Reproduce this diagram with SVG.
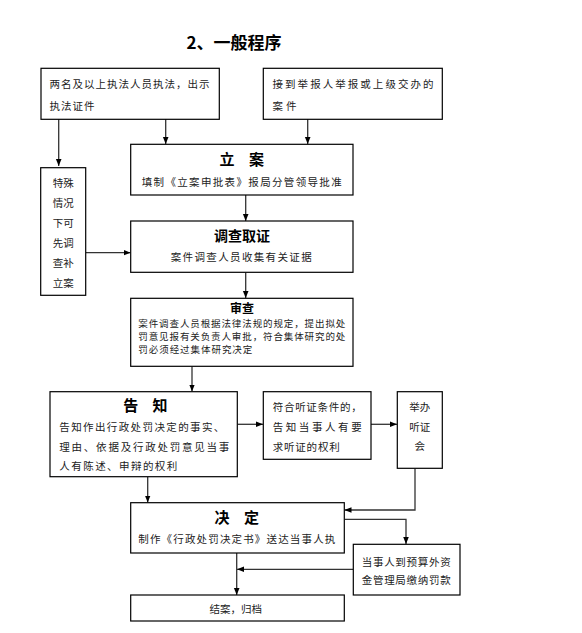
<svg xmlns="http://www.w3.org/2000/svg" width="582" height="633" viewBox="0 0 582 633">
<style>
.box{fill:#fff;stroke:#000;stroke-width:1.2}
.t{font-family:"Noto Sans CJK SC","Noto Sans",sans-serif;font-size:10.5px;fill:#222}
.s{font-size:9.5px}
.h{font-family:"Noto Sans CJK SC","Noto Sans",sans-serif;font-weight:bold;fill:#000;text-anchor:middle;white-space:pre}
.w{letter-spacing:2.5px}
.c{fill:none;stroke:#333;stroke-width:1.3;marker-end:url(#ah)}
</style>
<defs>
<marker id="ah" viewBox="0 0 10 10" refX="10" refY="5" markerWidth="7" markerHeight="7" orient="auto" markerUnits="userSpaceOnUse"><path d="M0,1 L10,5 L0,9 z" fill="#000"/></marker>
</defs>
<rect width="582" height="633" fill="#fff"/>
<text class="h" x="234" y="49" font-size="17">2、一般程序</text>

<g id="connectors">
<path class="c" d="M165.7,119 V144"/>
<path class="c" d="M307.7,119 V144"/>
<path class="c" d="M58.7,119 V166"/>
<path class="c" d="M86,252.7 H130.5"/>
<path class="c" d="M245.7,195 V221"/>
<path class="c" d="M245.7,272.5 V298"/>
<path class="c" d="M192,366.5 V391.5"/>
<path class="c" d="M237.5,424.3 H263"/>
<path class="c" d="M371,424.3 H397"/>
<path class="c" d="M415,468.5 V510 H344.5"/>
<path class="c" d="M147.7,477 V502.5"/>
<path class="c" d="M344.5,519.3 H406 V544"/>
<path class="c" d="M353,569.3 H237"/>
<path class="c" d="M236.7,553 V595"/>
</g>

<g id="nodeA">
<rect class="box" x="41" y="68.3" width="178.3" height="51"/>
<text class="t" x="49.5" y="88" textLength="160" lengthAdjust="spacing">两名及以上执法人员执法，出示</text>
<text class="t" x="49.5" y="110" textLength="45" lengthAdjust="spacing">执法证件</text>
</g>

<g id="nodeB">
<rect class="box" x="263.3" y="68.3" width="179" height="51"/>
<text class="t" x="272.5" y="88" textLength="161" lengthAdjust="spacing">接到举报人举报或上级交办的</text>
<text class="t" x="272.5" y="110" textLength="24" lengthAdjust="spacing">案件</text>
</g>

<g id="lian">
<rect class="box" x="130.7" y="144.3" width="222.3" height="50.7"/>
<text class="h w" x="243" y="165" font-size="15" xml:space="preserve">立  案</text>
<text class="t" x="141.7" y="185.5" textLength="200" lengthAdjust="spacing">填制《立案申批表》报局分管领导批准</text>
</g>

<g id="teshu">
<rect class="box" x="40.7" y="167.7" width="45" height="127.6"/>
<text class="t" x="63.2" y="187" text-anchor="middle">特殊</text>
<text class="t" x="63.2" y="207" text-anchor="middle">情况</text>
<text class="t" x="63.2" y="226.5" text-anchor="middle">下可</text>
<text class="t" x="63.2" y="246.5" text-anchor="middle">先调</text>
<text class="t" x="63.2" y="267" text-anchor="middle">查补</text>
<text class="t" x="63.2" y="287" text-anchor="middle">立案</text>
</g>

<g id="diaocha">
<rect class="box" x="130.7" y="221" width="222.3" height="51.3"/>
<text class="h" x="242" y="241" font-size="14">调查取证</text>
<text class="t" x="170.7" y="260.5" textLength="141" lengthAdjust="spacing">案件调查人员收集有关证据</text>
</g>

<g id="shencha">
<rect class="box" x="130.7" y="298.3" width="222.3" height="68"/>
<text class="h" x="242" y="312.5" font-size="12">审查</text>
<text class="t s" x="138.3" y="326.5" textLength="207" lengthAdjust="spacing">案件调查人员根据法律法规的规定，提出拟处</text>
<text class="t s" x="138.3" y="339.5" textLength="207" lengthAdjust="spacing">罚意见报有关负责人审批，符合集体研究的处</text>
<text class="t s" x="138.3" y="352.5" textLength="114" lengthAdjust="spacing">罚必须经过集体研究决定</text>
</g>

<g id="gaozhi">
<rect class="box" x="50" y="391.7" width="187.3" height="85"/>
<text class="h w" x="146.6" y="410.5" font-size="15" xml:space="preserve">告  知</text>
<text class="t" x="59.3" y="430.5" textLength="165" lengthAdjust="spacing">告知作出行政处罚决定的事实、</text>
<text class="t" x="59.3" y="450.5" textLength="170" lengthAdjust="spacing">理由、依据及行政处罚意见当事</text>
<text class="t" x="59.3" y="470" textLength="118" lengthAdjust="spacing">人有陈述、申辩的权利</text>
</g>

<g id="fuhe">
<rect class="box" x="263.3" y="391.7" width="107.7" height="67.6"/>
<text class="t" x="272.7" y="411" textLength="89" lengthAdjust="spacing">符合听证条件的，</text>
<text class="t" x="272.7" y="430.5" textLength="89" lengthAdjust="spacing">告知当事人有要</text>
<text class="t" x="272.7" y="450.5" textLength="67" lengthAdjust="spacing">求听证的权利</text>
</g>

<g id="juban">
<rect class="box" x="397.3" y="391.7" width="45" height="76.6"/>
<text class="t" x="419.7" y="410.5" text-anchor="middle">举办</text>
<text class="t" x="419.7" y="430.5" text-anchor="middle">听证</text>
<text class="t" x="419.7" y="450" text-anchor="middle">会</text>
</g>

<g id="jueding">
<rect class="box" x="130.7" y="502.7" width="213.6" height="50.3"/>
<text class="h w" x="238" y="522.5" font-size="15" xml:space="preserve">决  定</text>
<text class="t" x="138.3" y="543" textLength="197" lengthAdjust="spacing">制作《行政处罚决定书》送达当事人执</text>
</g>

<g id="jiaona">
<rect class="box" x="353.3" y="544.3" width="106.7" height="50.7"/>
<text class="t" x="361.7" y="565.5" textLength="89" lengthAdjust="spacing">当事人到预算外资</text>
<text class="t" x="361.7" y="584" textLength="89" lengthAdjust="spacing">金管理局缴纳罚款</text>
</g>

<g id="jiean">
<rect class="box" x="130.7" y="595" width="213.6" height="26"/>
<text class="t" x="235.7" y="613" text-anchor="middle">结案，归档</text>
</g>
</svg>
